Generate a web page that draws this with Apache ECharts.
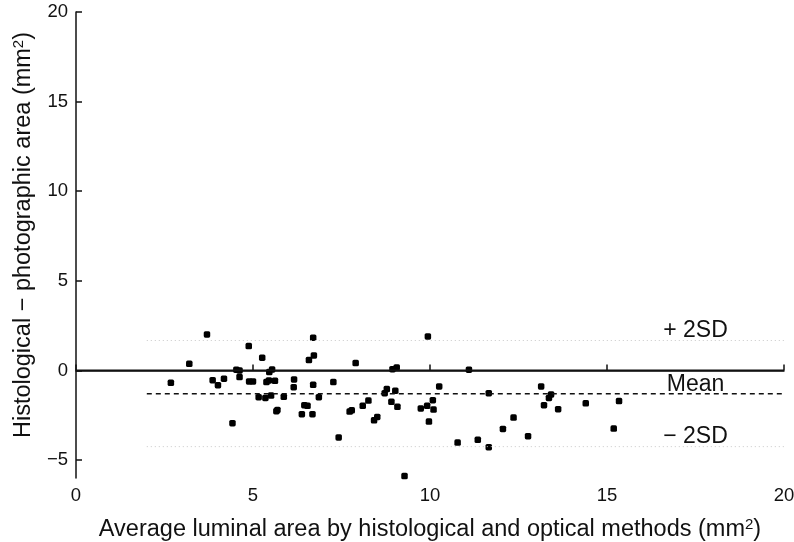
<!DOCTYPE html>
<html><head><meta charset="utf-8">
<script src="https://cdn.jsdelivr.net/npm/echarts@6/dist/echarts.min.js"></script>
<style>html,body{margin:0;padding:0;background:#fff}#c{width:794px;height:542px}</style>
</head><body><div id="c"></div>
<script>
// Average luminal area (mm^2)
const avgArea = [
  2.68, 3.20, 3.70, 3.86, 4.01, 4.18, 4.42, 4.53, 4.62, 4.62, 4.88, 4.89, 5.00, 5.26, 5.16, 5.35, 5.51, 5.46,
  5.54, 5.38, 5.45, 5.62, 5.66, 5.69, 5.87, 6.16, 6.15, 6.38, 6.45, 6.54, 6.68, 6.58, 6.72, 6.70, 6.70, 6.86,
  7.27, 7.42, 7.90, 7.73, 7.79, 8.10, 8.26, 8.42, 8.51, 8.78, 8.72, 9.02, 8.91, 9.08, 8.94, 9.06, 9.28, 9.74,
  9.92, 10.08, 10.10, 9.97, 9.94, 10.26, 10.78, 11.10,
  11.66, 11.35, 11.66, 12.06, 12.36, 12.77, 13.14, 13.22, 13.36, 13.42, 13.62, 14.40, 15.19, 15.34
];
// Histological - photographic area (mm^2)
const diffArea = [
  -0.69, 0.37, 2.01, -0.54, -0.82, -0.46, -2.94, 0.04, 0.00, -0.37, 1.36, -0.61, -0.61, 0.71, -1.49, -1.53, -1.40, -0.09,
  0.06, -0.65, -0.56, -0.58, -2.27, -2.20, -1.47, -0.50, -0.93, -2.44, -1.94, -1.97, -2.44, 0.58, 0.84, 1.83, -0.80, -1.49,
  -0.65, -3.74, 0.41, -2.29, -2.22, -1.97, -1.68, -2.78, -2.59, -1.04, -1.27, -1.13, -1.75, -2.03, 0.07, 0.17, -5.89, -2.12,
  -1.97, -1.66, -2.18, -2.85, 1.90, -0.89, -4.02, 0.04,
  -1.27, -3.87, -4.28, -3.26, -2.63, -3.67, -0.89, -1.94, -1.53, -1.34, -2.16, -1.83, -3.24, -1.71
];
const xTicks = [0, 5, 10, 15, 20];
const yTicks = [-5, 0, 5, 10, 15, 20];
const zeroLine = [0, 20];           // x extent of the zero line
const refExtent = [2, 20];          // x extent of mean / 2SD lines
const meanDiff = -1.3;
const plus2SD = 1.67;
const minus2SD = -4.25;
const refLabels = ['+ 2SD', 'Mean', '\u2212 2SD'];
const refValues = [plus2SD, meanDiff, minus2SD];
const labelX = 17.5;

const FONT = 'Liberation Sans, Arial, Helvetica, sans-serif';
const INK = '#111';

const points = avgArea.map((x, i) => [x, diffArea[i]]);
const hline = (ext, v) => [[ext[0], v], [ext[1], v]];

const chart = echarts.init(document.getElementById('c'), null, {renderer: 'canvas'});
chart.setOption({
  animation: false,
  backgroundColor: '#fff',
  grid: {left: 76, right: 10, top: 12, bottom: 64, containLabel: false, outerBoundsMode: 'none'},
  xAxis: {
    type: 'value', min: 0, max: 20, interval: 5,
    name: '{a|Average luminal area by histological and optical methods (mm}{s|2}{a|)}',
    nameLocation: 'middle', nameGap: 39,
    nameTextStyle: {
      rich: {
        a: {fontFamily: FONT, fontSize: 23.5, color: INK, lineHeight: 26},
        s: {fontFamily: FONT, fontSize: 15, color: INK, verticalAlign: 'top', lineHeight: 26}
      }
    },
    axisLine: {show: true, lineStyle: {color: INK, width: 1.5}},
    axisTick: {show: true, inside: true, length: 6, lineStyle: {color: INK, width: 1.5}, customValues: xTicks},
    axisLabel: {fontFamily: FONT, fontSize: 18.5, color: INK, margin: 8, customValues: xTicks},
    splitLine: {show: false}
  },
  yAxis: {
    type: 'value', min: -6, max: 20,
    name: '{a|Histological \u2212 photographic area (mm}{s|2}{a|)}',
    nameLocation: 'middle', nameGap: 36, nameRotate: 90,
    nameTextStyle: {
      padding: [0, 0, 0, 20],
      rich: {
        a: {fontFamily: FONT, fontSize: 23.5, color: INK, lineHeight: 26},
        s: {fontFamily: FONT, fontSize: 15, color: INK, verticalAlign: 'top', lineHeight: 26}
      }
    },
    axisLine: {show: true, lineStyle: {color: INK, width: 1.5}},
    axisTick: {show: true, inside: true, length: 6, lineStyle: {color: INK, width: 1.5}, customValues: yTicks},
    axisLabel: {
      fontFamily: FONT, fontSize: 18.5, color: INK, margin: 8, customValues: yTicks,
      formatter: v => (v < 0 ? '\u2212' + Math.abs(v) : String(v))
    },
    splitLine: {show: false}
  },
  series: [
    {type: 'line', data: hline(zeroLine, 0), symbol: 'none', silent: true,
     lineStyle: {color: INK, width: 1.8}},
    {type: 'line', data: hline(refExtent, meanDiff), symbol: 'none', silent: true,
     lineStyle: {color: INK, width: 1.5, type: [5, 4]}},
    {type: 'line', data: hline(refExtent, plus2SD), symbol: 'none', silent: true,
     lineStyle: {color: '#c8c8c8', width: 1, type: [1, 3]}},
    {type: 'line', data: hline(refExtent, minus2SD), symbol: 'none', silent: true,
     lineStyle: {color: '#c8c8c8', width: 1, type: [1, 3]}},
    {type: 'scatter', data: points, symbol: 'roundRect', symbolSize: 6.5,
     itemStyle: {color: '#000', opacity: 1}}
  ]
});

const texts = refLabels.map((t, i) => {
  const p = chart.convertToPixel({gridIndex: 0}, [labelX, refValues[i]]);
  return {
    type: 'text', x: p[0], y: p[1] + 2, silent: true,
    style: {text: t, fill: INK, font: '23px ' + FONT, textAlign: 'center', textVerticalAlign: 'bottom'}
  };
});
chart.setOption({graphic: texts});
</script>
</body></html>
